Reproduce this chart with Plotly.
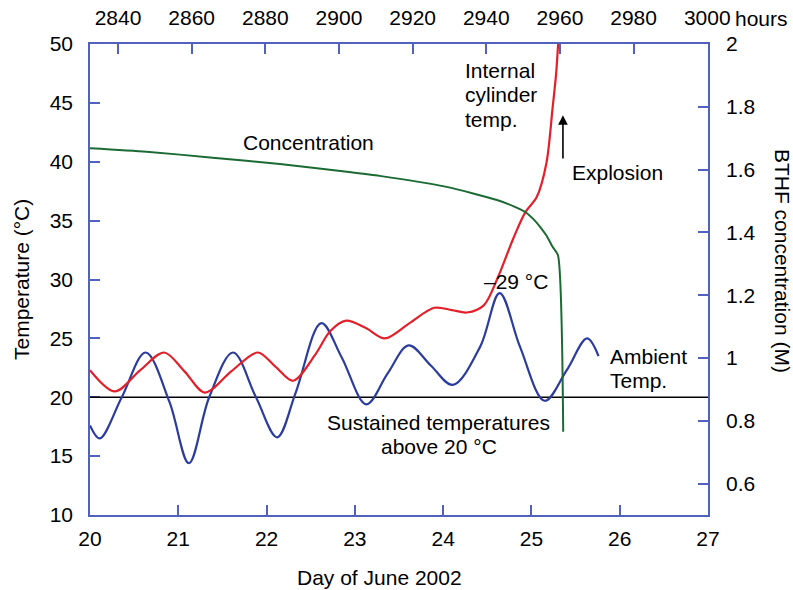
import plotly.graph_objects as go

# ---------------- data ----------------
ambient_day = [20.00, 20.11, 20.36, 20.63, 20.90, 21.12, 21.35, 21.62, 21.88, 22.12, 22.33,
               22.62, 22.85, 23.13, 23.37, 23.61, 23.86, 24.11, 24.42, 24.64, 24.87, 25.15,
               25.40, 25.63, 25.76]
ambient_temp = [17.6, 16.5, 20.0, 23.8, 19.6, 14.4, 20.0, 23.8, 20.0, 16.6, 20.4,
                26.3, 23.4, 19.4, 22.0, 24.4, 22.7, 21.05, 24.3, 28.85, 24.3, 19.7,
                22.3, 25.0, 23.5]

internal_day = [20.00, 20.28, 20.57, 20.84, 21.07, 21.30, 21.60, 21.90, 22.10, 22.30, 22.55,
                22.72, 22.90, 23.12, 23.34, 23.62, 23.90, 24.10, 24.27, 24.46, 24.61, 24.79,
                24.93, 25.06, 25.17, 25.24, 25.28, 25.31]
internal_temp = [22.3, 20.5, 22.3, 23.8, 22.2, 20.4, 22.2, 23.8, 22.6, 21.4, 23.6,
                 25.6, 26.5, 25.9, 25.0, 26.3, 27.6, 27.4, 27.2, 27.8, 30.0, 33.4,
                 35.7, 37.0, 39.9, 44.6, 47.5, 51.0]

conc_day = [20.00, 20.64, 21.39, 22.15, 22.91, 23.28, 24.04, 24.61, 24.80, 24.93, 25.02,
            25.10, 25.17, 25.24, 25.30, 25.36]
conc_val = [1.668, 1.657, 1.638, 1.618, 1.593, 1.580, 1.545, 1.503, 1.483, 1.465, 1.443,
            1.417, 1.390, 1.354, 1.328, 0.765]

day_ticks = [20, 21, 22, 23, 24, 25, 26, 27]
hour_ticks = [2840, 2860, 2880, 2900, 2920, 2940, 2960, 2980, 3000]
temp_ticks = [10, 15, 20, 25, 30, 35, 40, 45, 50]
conc_ticks = [0.6, 0.8, 1.0, 1.2, 1.4, 1.6, 1.8, 2.0]
conc_ticktext = ["0.6", "0.8", "1", "1.2", "1.4", "1.6", "1.8", "2"]
threshold_temp = 20

# ---------------- styling ----------------
FONT = "Liberation Sans, Arial, Helvetica, sans-serif"
FS = 21
AXIS_BLUE = "#5062bd"
BLUE = "#2c3c9e"
RED = "#e3202a"
GREEN = "#1b6a34"

fig = go.Figure()

# threshold line at 20 °C
fig.add_trace(go.Scatter(x=[day_ticks[0], day_ticks[-1]], y=[threshold_temp, threshold_temp],
                         mode="lines", line=dict(color="black", width=1.3),
                         hoverinfo="skip", showlegend=False))

fig.add_trace(go.Scatter(x=ambient_day, y=ambient_temp, mode="lines",
                         line=dict(color=BLUE, width=2.2, shape="spline", smoothing=1.0),
                         name="Ambient Temp.", showlegend=False))
fig.add_trace(go.Scatter(x=internal_day, y=internal_temp, mode="lines",
                         line=dict(color=RED, width=2.2, shape="spline", smoothing=0.9),
                         name="Internal cylinder temp.", showlegend=False))
fig.add_trace(go.Scatter(x=conc_day, y=conc_val, mode="lines", yaxis="y2",
                         line=dict(color=GREEN, width=2.0, shape="spline", smoothing=0.6),
                         name="Concentration", showlegend=False))
# invisible trace to carry the top (hours) axis
fig.add_trace(go.Scatter(x=hour_ticks, y=[None] * len(hour_ticks), xaxis="x2",
                         mode="markers", marker=dict(opacity=0), hoverinfo="skip",
                         showlegend=False))

axis_common = dict(showline=True, linecolor=AXIS_BLUE, linewidth=1.6, ticks="inside",
                   ticklen=10, tickwidth=1.6, tickcolor=AXIS_BLUE, showgrid=False,
                   zeroline=False, automargin=False,
                   tickfont=dict(family=FONT, size=FS, color="black"))

fig.update_layout(
    width=793, height=590,
    margin=dict(l=90, r=85, t=44, b=75),
    paper_bgcolor="white", plot_bgcolor="white",
    font=dict(family=FONT, size=FS, color="black"),
    xaxis=dict(range=[20, 27], tickvals=day_ticks, ticklabelstandoff=4, **axis_common),
    xaxis2=dict(range=[2832.4, 3000.2], overlaying="x", side="top", anchor="y",
                tickvals=hour_ticks, ticktext=[str(h) for h in hour_ticks],
                ticklabelstandoff=9, **axis_common),
    yaxis=dict(range=[10, 50], tickvals=temp_ticks, ticklabelstandoff=11,
               layer="below traces", **axis_common),
    yaxis2=dict(range=[0.5, 2.0], overlaying="y", side="right", anchor="x",
                tickvals=conc_ticks, ticktext=conc_ticktext, ticklabelstandoff=12,
                **axis_common),
)

ann = []
def txt(x, y, s, xanchor="center", align="center", **kw):
    d = dict(x=x, y=y, text=s, showarrow=False, xanchor=xanchor, yanchor="middle",
             align=align, font=dict(family=FONT, size=FS, color="black"))
    d.update(kw)
    ann.append(d)

txt(22.47, 41.65, "Concentration", xref="x", yref="y")
txt(24.225, 47.79, "Internal", xanchor="left", xref="x", yref="y")
txt(24.225, 45.67, "cylinder", xanchor="left", xref="x", yref="y")
txt(24.225, 43.55, "temp.", xanchor="left", xref="x", yref="y")
txt(25.98, 39.05, "Explosion", xref="x", yref="y")
txt(24.825, 29.8, "–29 °C", xref="x", yref="y")
txt(25.867, 23.43, "Ambient", xanchor="left", xref="x", yref="y")
txt(25.867, 21.39, "Temp.", xanchor="left", xref="x", yref="y")
txt(23.95, 17.83, "Sustained temperatures", xref="x", yref="y")
txt(23.95, 15.79, "above 20 °C", xref="x", yref="y")
# arrow marking the explosion
ann.append(dict(x=25.357, y=43.95, ax=25.357, ay=40.15, xref="x", yref="y", axref="x", ayref="y",
                showarrow=True, arrowhead=2, arrowsize=1.2, arrowwidth=1.6, arrowcolor="black", text=""))
# axis titles
txt(-0.110, 0.499, "Temperature (°C)", xref="paper", yref="paper", textangle=-90)
txt(1.121, 0.54, "BTHF concentration (M)", xref="paper", yref="paper", textangle=90)
txt(0.469, -0.132, "Day of June 2002", xref="paper", yref="paper")
txt(1.040, 1.0552, "hours", xanchor="left", xref="paper", yref="paper")

fig.update_layout(annotations=ann)

fig.write_html("out.html")
